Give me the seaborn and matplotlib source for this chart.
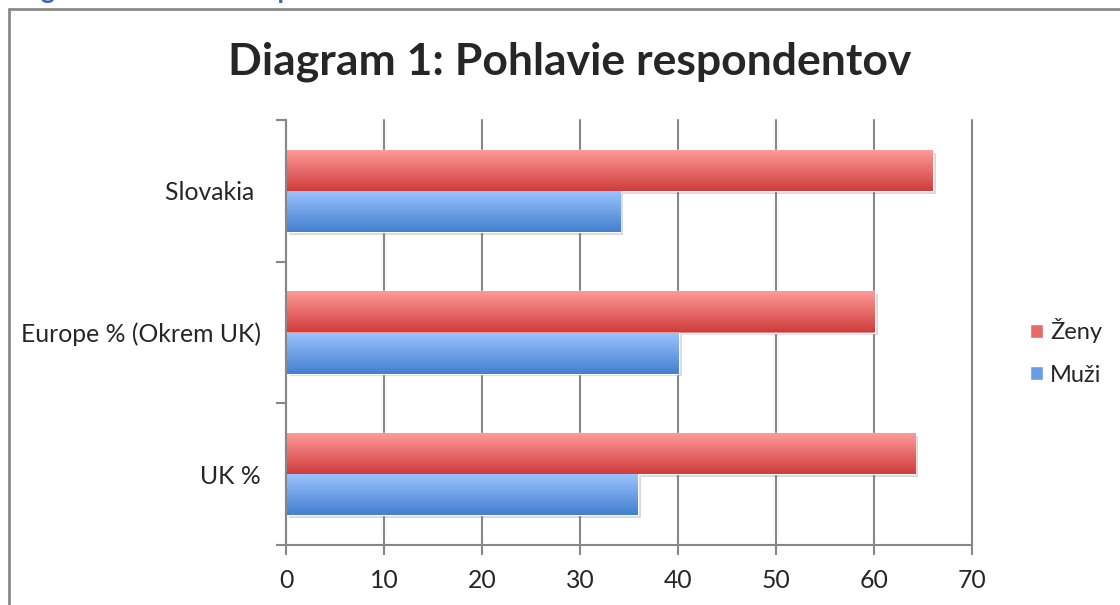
import numpy as np
import pandas as pd
import seaborn as sns
import matplotlib.pyplot as plt
import matplotlib.patheffects as pe
from matplotlib.lines import Line2D
from matplotlib.patches import Patch
from matplotlib.colors import to_rgb

# data
countries = ["Slovakia ", "Europe % (Okrem UK)", "UK %"]
zeny = [66.0, 60.1, 64.2]
muzi = [34.1, 40.1, 35.9]
series = ["Ženy", "Muži"]

df = pd.DataFrame({
    "krajina": countries * 2,
    "pohlavie": [series[0]] * 3 + [series[1]] * 3,
    "hodnota": zeny + muzi,
})

sns.set_style("white")
plt.rcParams["font.family"] = ["Lato", "DejaVu Sans"]

fig = plt.figure(figsize=(11.2, 6.05), dpi=100)
ax = fig.add_axes([286 / 1120, 1 - 545 / 605, (972 - 286) / 1120, (545 - 120) / 605])

pal = {"Ženy": "#e06060", "Muži": "#6a9be6"}
sns.barplot(data=df, y="krajina", x="hodnota", hue="pohlavie", hue_order=series,
            order=countries, palette=pal, orient="h", width=0.58, ax=ax,
            legend=False, saturation=1)

# gradient + shadow for bars
grads = {
    "Ženy": ("#ff9c9b", "#cf3d3c"),
    "Muži": ("#9cc3ff", "#4480cf"),
}
for cont, name in zip(ax.containers, series):
    top, bot = np.array(to_rgb(grads[name][0])), np.array(to_rgb(grads[name][1]))
    t = np.linspace(0, 1, 64)[:, None, None]
    img = top * (1 - t) + bot * t
    for bar in cont:
        bar.set_path_effects([pe.SimplePatchShadow(offset=(2, -2), alpha=0.22,
                                                   shadow_rgbFace="#555555"), pe.Normal()])
        x0, y0 = bar.get_x(), bar.get_y()
        w, h = bar.get_width(), bar.get_height()
        im = ax.imshow(img, extent=[x0, x0 + w, y0 + h, y0], origin="upper",
                       aspect="auto", zorder=bar.get_zorder() + 0.1)
        im.set_clip_path(bar)

ax.set_xlim(0, 70)
ax.set_ylim(2.5, -0.5)
ax.set_xticks(range(0, 71, 10))
ax.set_axisbelow(True)
ax.grid(axis="x", color="#878787", linewidth=1.5)
ax.grid(axis="y", visible=False)
for gl in ax.get_xgridlines():
    gl.set_clip_on(False)
ax.set_xlabel("")
ax.set_ylabel("")

for s in ["top", "right"]:
    ax.spines[s].set_visible(False)
for s in ["left", "bottom"]:
    ax.spines[s].set_color("#878787")
    ax.spines[s].set_linewidth(1.5)

ax.set_yticks([-0.5, 0.5, 1.5, 2.5], minor=True)
ax.tick_params(axis="y", which="minor", length=7.2, width=1.5, color="#878787", left=True)
ax.tick_params(axis="y", which="major", length=0, pad=18, labelsize=17.8)
ax.tick_params(axis="x", length=7.2, width=1.5, color="#878787", pad=10, labelsize=17.8,
               bottom=True)

fig.text(570 / 1120, 1 - 62 / 605, "Diagram 1: Pohlavie respondentov",
         ha="center", va="center", fontsize=32, fontweight="bold")

# cut-off caption at the very top
fig.text(405 / 1120, 1 + 1 / 605, "Diagram 1: Pohlavie respondentov", ha="right",
         va="baseline", fontsize=19, fontweight="bold", color="#3d6aa6")

# chart frame
fig.add_artist(Line2D([9 / 1120, 9 / 1120], [0, 1 - 9 / 605], color="#8a8a8a",
                      linewidth=2, transform=fig.transFigure))
fig.add_artist(Line2D([9 / 1120, 1], [1 - 9 / 605, 1 - 9 / 605], color="#8a8a8a",
                      linewidth=2, transform=fig.transFigure))

handles = [Patch(facecolor="#e66a6a", label="Ženy"), Patch(facecolor="#6a9be6", label="Muži")]
fig.legend(handles=handles, loc="center left", bbox_to_anchor=(1030 / 1120, 1 - 352 / 605),
           frameon=False, fontsize=17, handlelength=0.55, handleheight=0.55,
           handletextpad=0.3, labelspacing=0.9, borderpad=0, borderaxespad=0)

fig.savefig("out.png", dpi=100)
